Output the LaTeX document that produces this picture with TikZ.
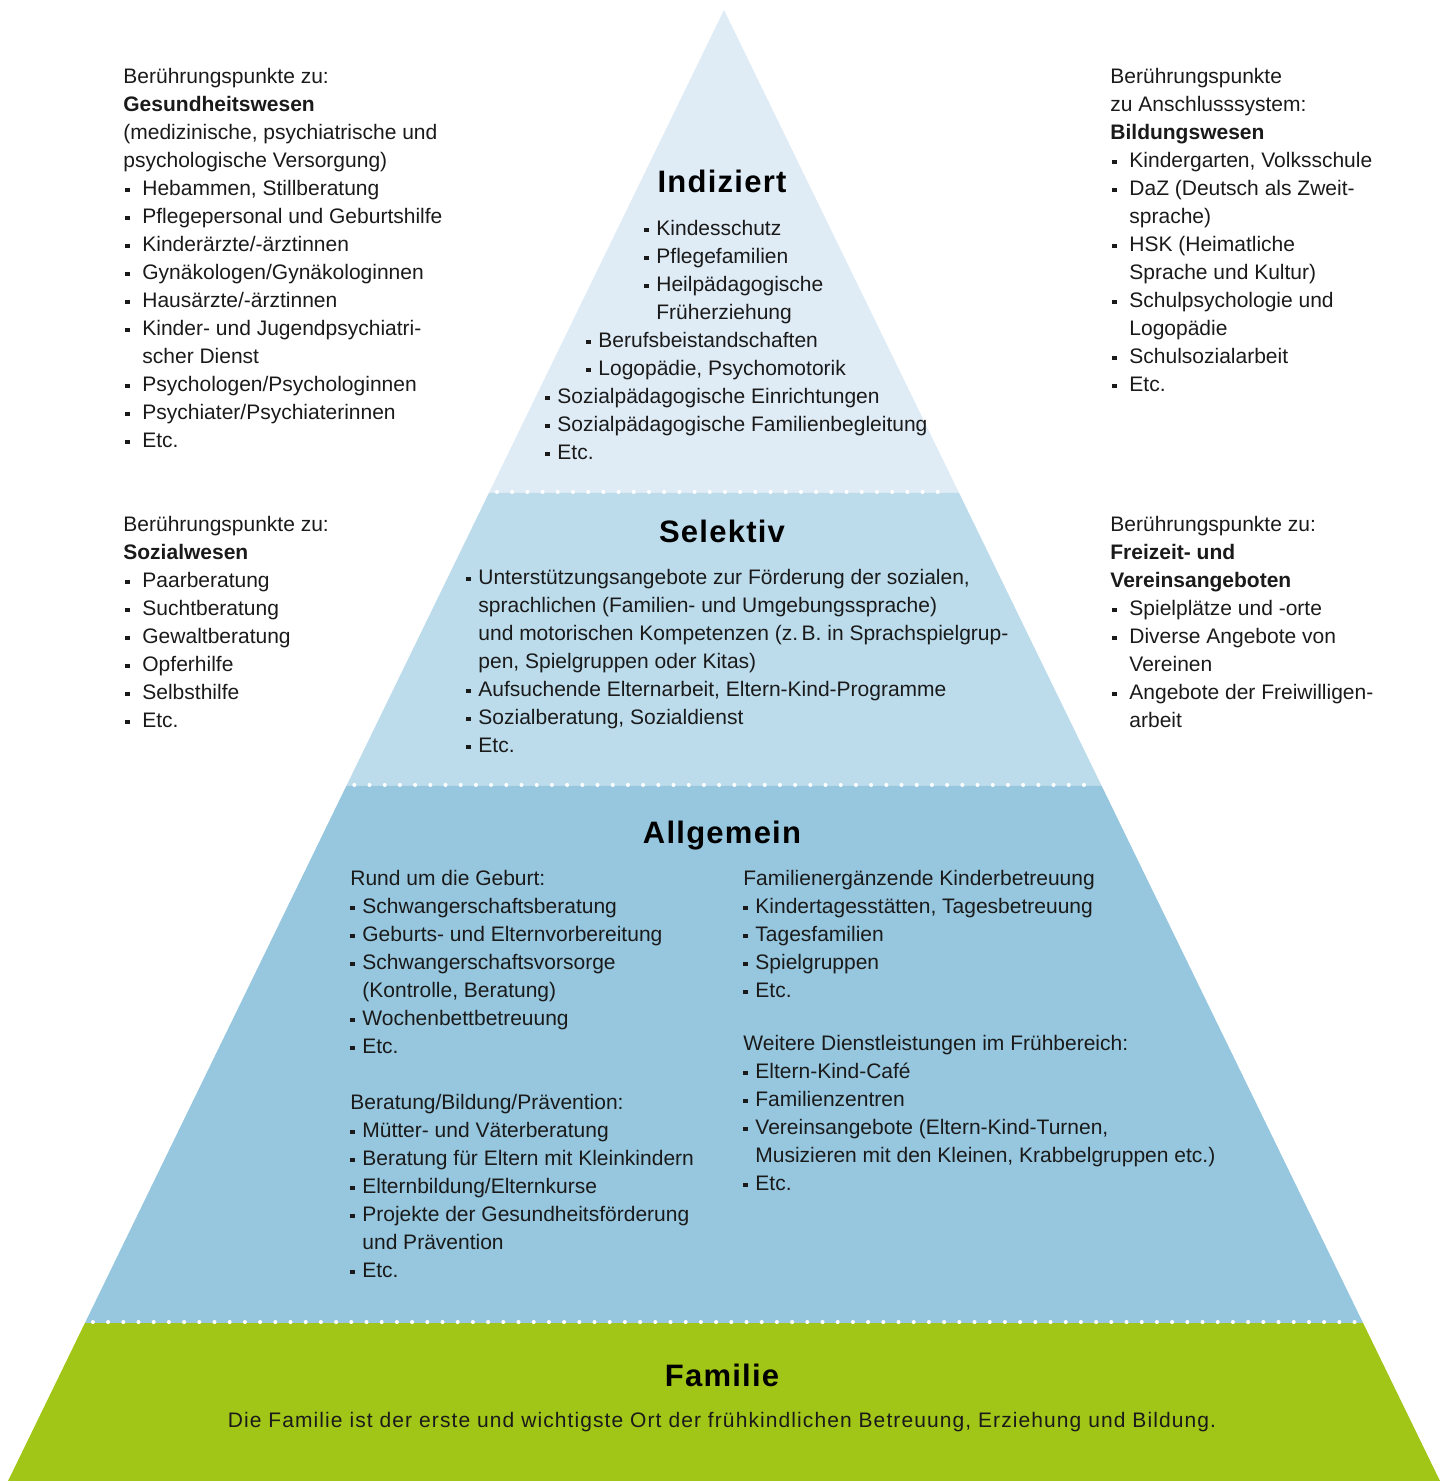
\documentclass[tikz,border=0pt]{standalone}
\usepackage{fontspec}
\setmainfont{Liberation Sans}
\newfontfamily\headfont[LetterSpace=4]{Liberation Sans}
\newfontfamily\widefont[LetterSpace=5.2]{Liberation Sans}
\usetikzlibrary{calc,positioning}

\definecolor{indblue}{HTML}{DFECF6}
\definecolor{selblue}{HTML}{BCDCEC}
\definecolor{allblue}{HTML}{96C7DF}
\definecolor{famgreen}{HTML}{A2C617}
\definecolor{ink}{HTML}{1A1A1A}

\newcommand{\bulo}{\makebox[9.5bp][l]{\hspace{1bp}\raisebox{1.6bp}{\rule{2.1bp}{2.1bp}}}}
\newcommand{\buli}{\makebox[6bp][l]{\raisebox{1.6bp}{\rule{2.1bp}{2.1bp}}}}
\newcommand{\conto}{\hspace*{9.5bp}}
\newcommand{\conti}{\hspace*{6bp}}

\begin{document}
\begin{tikzpicture}[x=0.5bp,y=0.5bp,
  txt/.style={anchor=north west,align=left,inner sep=0pt,text=ink,font=\fontsize{10.5bp}{14bp}\selectfont},
  head/.style={anchor=base,inner sep=0pt,text=black,font=\fontsize{15.5bp}{18bp}\selectfont\headfont\bfseries},
  dots/.style={white,line width=2bp,line cap=round,dash pattern=on 0pt off 7.6bp}]

\useasboundingbox (0,0) rectangle (1448,-1481);

\coordinate (top) at (724,-10);
\coordinate (bl) at (8,-1481);
\coordinate (br) at (1440,-1481);
\coordinate (l1) at ($(top)!0.3283!(bl)$);
\coordinate (r1) at ($(top)!0.3283!(br)$);
\coordinate (l2) at ($(top)!0.5275!(bl)$);
\coordinate (r2) at ($(top)!0.5275!(br)$);
\coordinate (l3) at ($(top)!0.8926!(bl)$);
\coordinate (r3) at ($(top)!0.8926!(br)$);

\fill[indblue] (top) -- (l1) -- (r1) -- cycle;
\fill[selblue] (l1) -- (l2) -- (r2) -- (r1) -- cycle;
\fill[allblue] (l2) -- (l3) -- (r3) -- (r2) -- cycle;
\fill[famgreen] (l3) -- (bl) -- (br) -- (r3) -- cycle;

\draw[dots] ($(l1)+(8,1)$) -- ($(r1)+(-8,1)$);
\draw[dots] ($(l2)+(8,1)$) -- ($(r2)+(-8,1)$);
\draw[dots] ($(l3)+(8,1)$) -- ($(r3)+(-8,1)$);

\node[head](hind) at (722,-192) {Indiziert};
\node[head](hsel) at (722,-542) {Selektiv};
\node[head](hallg) at (722,-843) {Allgemein};
\node[head](hfam) at (722,-1386) {Familie};

\node[txt](lind) at (545,-215) {\strut\hspace*{49.5bp}\buli Kindesschutz\\
\hspace*{49.5bp}\buli Pflegefamilien\\
\hspace*{49.5bp}\buli Heilpädagogische\\
\hspace*{49.5bp}\conti Früherziehung\\
\hspace*{20.5bp}\buli Berufsbeistandschaften\\
\hspace*{20.5bp}\buli Logopädie, Psychomotorik\\
\buli Sozialpädagogische Einrichtungen\\
\buli Sozialpädagogische Familienbegleitung\\
\buli Etc.};

\node[txt](lsel) at (466,-564) {\strut\buli Unterstützungsangebote zur Förderung der sozialen,\\
\conti sprachlichen (Familien- und Umgebungssprache)\\
\conti und motorischen Kompetenzen (z.\,B. in Sprachspielgrup-\\
\conti pen, Spielgruppen oder Kitas)\\
\buli Aufsuchende Elternarbeit, Eltern-Kind-Programme\\
\buli Sozialberatung, Sozialdienst\\
\buli Etc.};

\node[txt](lallg) at (350,-865) {\strut Rund um die Geburt:\\
\buli Schwangerschaftsberatung\\
\buli Geburts- und Elternvorbereitung\\
\buli Schwangerschaftsvorsorge\\
\conti (Kontrolle, Beratung)\\
\buli Wochenbettbetreuung\\
\buli Etc.\\[14bp]
Beratung/Bildung/Prävention:\\
\buli Mütter- und Väterberatung\\
\buli Beratung für Eltern mit Kleinkindern\\
\buli Elternbildung/Elternkurse\\
\buli Projekte der Gesundheitsförderung\\
\conti und Prävention\\
\buli Etc.};

\node[txt](rallg) at (743,-865) {\strut Familienergänzende Kinderbetreuung\\
\buli Kindertagesstätten, Tagesbetreuung\\
\buli Tagesfamilien\\
\buli Spielgruppen\\
\buli Etc.\\[12.5bp]
Weitere Dienstleistungen im Frühbereich:\\
\buli Eltern-Kind-Café\\
\buli Familienzentren\\
\buli Vereinsangebote (Eltern-Kind-Turnen,\\
\conti Musizieren mit den Kleinen, Krabbelgruppen etc.)\\
\buli Etc.};

\node[txt,anchor=north,below=10.2bp of hfam,font=\fontsize{10.5bp}{14bp}\selectfont\widefont](tfam) {\strut Die Familie ist der erste und wichtigste Ort der frühkindlichen Betreuung, Erziehung und Bildung.};

\node[txt](lgesund) at (123,-63) {\strut Berührungspunkte zu:\\
\textbf{Gesundheitswesen}\\
(medizinische, psychiatrische und\\
psychologische Versorgung)\\
\bulo Hebammen, Stillberatung\\
\bulo Pflegepersonal und Geburtshilfe\\
\bulo Kinderärzte/-ärztinnen\\
\bulo Gynäkologen/Gynäkologinnen\\
\bulo Hausärzte/-ärztinnen\\
\bulo Kinder- und Jugendpsychiatri-\\
\conto scher Dienst\\
\bulo Psychologen/Psychologinnen\\
\bulo Psychiater/Psychiaterinnen\\
\bulo Etc.};

\node[txt](rbildung) at (1110,-63) {\strut Berührungspunkte\\
zu Anschlusssystem:\\
\textbf{Bildungswesen}\\
\bulo Kindergarten, Volksschule\\
\bulo DaZ (Deutsch als Zweit-\\
\conto sprache)\\
\bulo HSK (Heimatliche\\
\conto Sprache und Kultur)\\
\bulo Schulpsychologie und\\
\conto Logopädie\\
\bulo Schulsozialarbeit\\
\bulo Etc.};

\node[txt](lsozial) at (123,-511) {\strut Berührungspunkte zu:\\
\textbf{Sozialwesen}\\
\bulo Paarberatung\\
\bulo Suchtberatung\\
\bulo Gewaltberatung\\
\bulo Opferhilfe\\
\bulo Selbsthilfe\\
\bulo Etc.};

\node[txt](rfreizeit) at (1110,-511) {\strut Berührungspunkte zu:\\
\textbf{Freizeit- und}\\
\textbf{Vereinsangeboten}\\
\bulo Spielplätze und -orte\\
\bulo Diverse Angebote von\\
\conto Vereinen\\
\bulo Angebote der Freiwilligen-\\
\conto arbeit};

\end{tikzpicture}
\end{document}
